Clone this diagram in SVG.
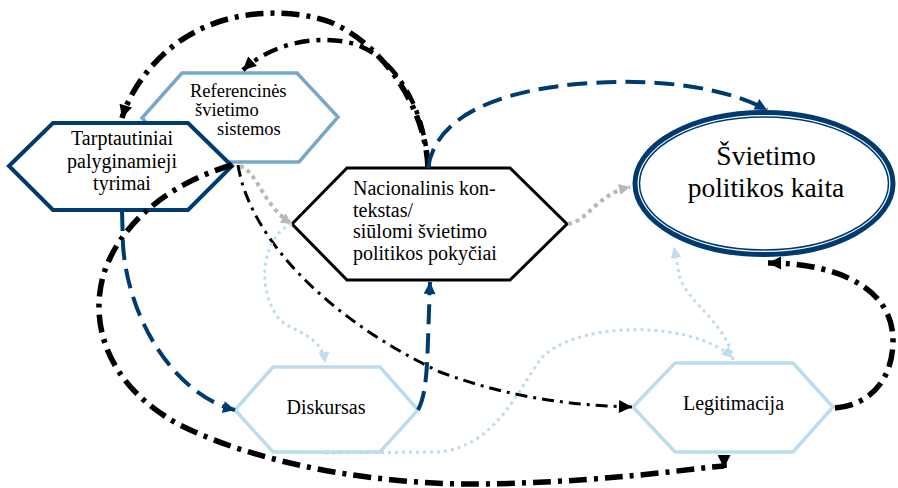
<svg xmlns="http://www.w3.org/2000/svg" width="898" height="488" viewBox="0 0 898 488">
<style>
.node{fill:#fff;stroke-linejoin:miter}
.t{font-family:'Liberation Serif','Times New Roman',serif;fill:#000}
.c{fill:none}
.dd1{stroke:#000;stroke-width:5.5;stroke-dasharray:18 7 4 7}
.dd2{stroke:#000;stroke-width:4.5;stroke-dasharray:15 7 4 7}
.dd3{stroke:#000;stroke-width:3;stroke-dasharray:12 6 3 6}
.db{stroke:#003b6f;stroke-width:4;stroke-dasharray:20 9}
.gr{stroke:#b8b8b8;stroke-width:4;stroke-dasharray:4 4}
.lb{stroke:#bcdcf0;stroke-width:3;stroke-dasharray:3 4}
</style>
<defs>
<marker id="aBk" viewBox="0 0 10 10" refX="10" refY="5" markerWidth="15" markerHeight="13" markerUnits="userSpaceOnUse" orient="auto"><path d="M0,0 L10,5 L0,10 z" fill="#000"/></marker>
<marker id="aDb" viewBox="0 0 10 10" refX="10" refY="5" markerWidth="13" markerHeight="12" markerUnits="userSpaceOnUse" orient="auto"><path d="M0,0 L10,5 L0,10 z" fill="#003b6f"/></marker>
<marker id="aGr" viewBox="0 0 10 10" refX="10" refY="5" markerWidth="12" markerHeight="11" markerUnits="userSpaceOnUse" orient="auto"><path d="M0,0 L10,5 L0,10 z" fill="#b8b8b8"/></marker>
<marker id="aLb" viewBox="0 0 10 10" refX="10" refY="5" markerWidth="12" markerHeight="11" markerUnits="userSpaceOnUse" orient="auto"><path d="M0,0 L10,5 L0,10 z" fill="#bcdcf0"/></marker>
</defs>
<rect width="898" height="488" fill="#fff"/>

<g id="node-referencines">
<polygon class="node" points="142,118 182,73 297,73 338,117 299,162 182,162" stroke="#78a8c8" stroke-width="3.5"/>
<text class="t" font-size="18.5" x="190" y="97">Referencinės</text>
<text class="t" font-size="18.5" x="195" y="116">švietimo</text>
<text class="t" font-size="18.5" x="217" y="135">sistemos</text>
</g>

<g id="node-tarptautiniai">
<polygon class="node" points="9,166 53,123 188,123 232,166 188,210 53,210" stroke="#003b6f" stroke-width="4"/>
<text class="t" font-size="20" text-anchor="middle" x="122" y="145">Tarptautiniai</text>
<text class="t" font-size="20" text-anchor="middle" x="122" y="168">palyginamieji</text>
<text class="t" font-size="20" text-anchor="middle" x="122" y="190">tyrimai</text>
</g>

<g id="node-nacionalinis">
<polygon class="node" points="292,224 347,168 510,168 567,224 510,280 347,280" stroke="#000" stroke-width="3"/>
<text class="t" font-size="20" x="353" y="195">Nacionalinis kon-</text>
<text class="t" font-size="20" x="353" y="217">tekstas/</text>
<text class="t" font-size="20" x="353" y="238">siūlomi švietimo</text>
<text class="t" font-size="20" x="353" y="260">politikos pokyčiai</text>
</g>

<g id="node-kaita">
<ellipse cx="764" cy="183.5" rx="129" ry="71" fill="#fff" stroke="#003b6f" stroke-width="5"/>
<ellipse cx="764" cy="183.5" rx="124.5" ry="66.5" fill="none" stroke="#003b6f" stroke-width="1.5"/>
<text class="t" font-size="27.5" text-anchor="middle" x="766" y="165">Švietimo</text>
<text class="t" font-size="27.5" text-anchor="middle" x="766" y="197">politikos kaita</text>
</g>

<g id="node-diskursas">
<polygon class="node" points="235,410 273,367 380,367 418,410 380,452 273,452" stroke="#bcdcf0" stroke-width="3.5"/>
<text class="t" font-size="20" text-anchor="middle" x="326" y="414">Diskursas</text>
</g>

<g id="node-legitimacija">
<polygon class="node" points="633,407 675,363 793,363 833,407 793,452 675,452" stroke="#bcdcf0" stroke-width="3.5"/>
<text class="t" font-size="20" text-anchor="middle" x="733.5" y="410">Legitimacija</text>
</g>

<g id="connectors">
<path class="c dd1" d="M428,168 C426,110 385,45 330,22 C290,8 235,10 195,32 C160,50 132,85 122,118" marker-end="url(#aBk)"/>
<path class="c dd2" d="M428,168 C426,115 400,60 355,44 C315,33 270,45 243,70" marker-end="url(#aBk)"/>
<path class="c db" d="M428,168 C435,120 490,90 590,83 C670,78 730,90 767,110" marker-end="url(#aDb)"/>
<path class="c gr" d="M568,224 C590,220 595,195 630,187" marker-end="url(#aGr)"/>
<path class="c gr" d="M240,166 C258,172 262,205 292,224" marker-end="url(#aGr)"/>
<path class="c dd3" d="M238,165 C250,240 330,320 440,372 C510,398 570,405 632,407" marker-end="url(#aBk)"/>
<path class="c dd1" d="M232,165 C180,180 125,215 105,270 C88,320 105,385 180,425 C260,465 380,485 480,484 C580,483 670,472 712,467 L724,466 L724,468" marker-end="url(#aBk)"/>
<path class="c db" d="M122,211 L123,245 C128,320 175,395 235,410" marker-end="url(#aDb)"/>
<path class="c db" d="M418,410 C426,395 427,370 428,340 L430,282" marker-end="url(#aDb)"/>
<path class="c lb" d="M292,224 C262,235 255,290 280,320 C295,333 322,335 325,363" marker-end="url(#aLb)"/>
<path class="c lb" d="M325,453 L440,452 C495,445 515,395 540,360 C570,322 690,318 733,358" marker-end="url(#aLb)"/>
<path class="c lb" d="M733,360 C728,325 690,305 680,278 L674,247" marker-end="url(#aLb)"/>
<path class="c dd1" d="M835,408 C870,405 893,380 893,340 C893,290 840,263 768,263" marker-end="url(#aBk)"/>
</g>
</svg>
